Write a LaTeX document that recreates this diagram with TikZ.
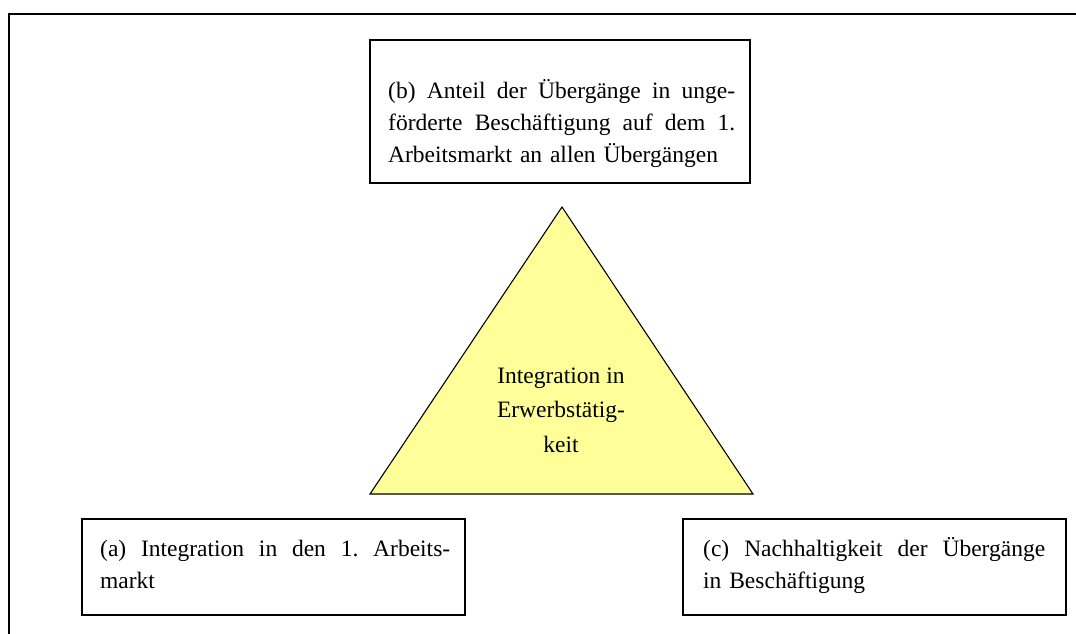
\documentclass[tikz,border=0pt]{standalone}
\usepackage{fontspec}
\setmainfont{Liberation Serif}
\begin{document}
\begin{tikzpicture}[x=1pt,y=-1pt,
  boxline/.style={draw=black,line width=1.3pt},
  boxtext/.style={inner sep=0pt,anchor=north west,align=left,font=\fontsize{23.5}{32}\selectfont},
  tritext/.style={inner sep=0pt,anchor=north,align=center,font=\fontsize{23.5}{34.5}\selectfont}]
\useasboundingbox (0,0) rectangle (1076,633);
% outer frame (cropped on right and bottom)
\coordinate (fa) at (9,640);
\coordinate (fb) at (9,14);
\coordinate (fc) at (1090,14);
\draw[line width=1.4pt] (fa) -- (fb) -- (fc);
% triangle
\coordinate (tA) at (562,207);
\coordinate (tL) at (370,494);
\coordinate (tR) at (753,494);
\draw[line width=1.1pt,fill={rgb,255:red,255;green,255;blue,153}] (tA) -- (tL) -- (tR) -- cycle;
\node[tritext] (tt) at (561,361) {\rule{0pt}{22pt}Integration in\\Erwerbstätig-\\keit};
% box b
\draw[boxline] (370,40) rectangle (750,183);
\node[boxtext,text width=347pt] (bt) at (388,76) {\rule{0pt}{22pt}\makebox[347pt][l]{(b)\hfill Anteil\hfill der\hfill Übergänge\hfill in\hfill unge-}\\\makebox[347pt][l]{förderte\hfill Beschäftigung\hfill auf\hfill dem\hfill 1.}\\Arbeitsmarkt an allen Übergängen};
% box a
\draw[boxline] (82,519) rectangle (465,615);
\node[boxtext,text width=350pt] (at) at (100,534) {\rule{0pt}{22pt}\makebox[350pt][l]{(a)\hfill Integration\hfill in\hfill den\hfill 1.\hfill Arbeits-}\\markt};
% box c
\draw[boxline] (683,519) rectangle (1066,615);
\node[boxtext,text width=342pt] (ct) at (703,534) {\rule{0pt}{22pt}\makebox[342pt][l]{(c)\hfill Nachhaltigkeit\hfill der\hfill Übergänge}\\in Beschäftigung};
\end{tikzpicture}
\end{document}
